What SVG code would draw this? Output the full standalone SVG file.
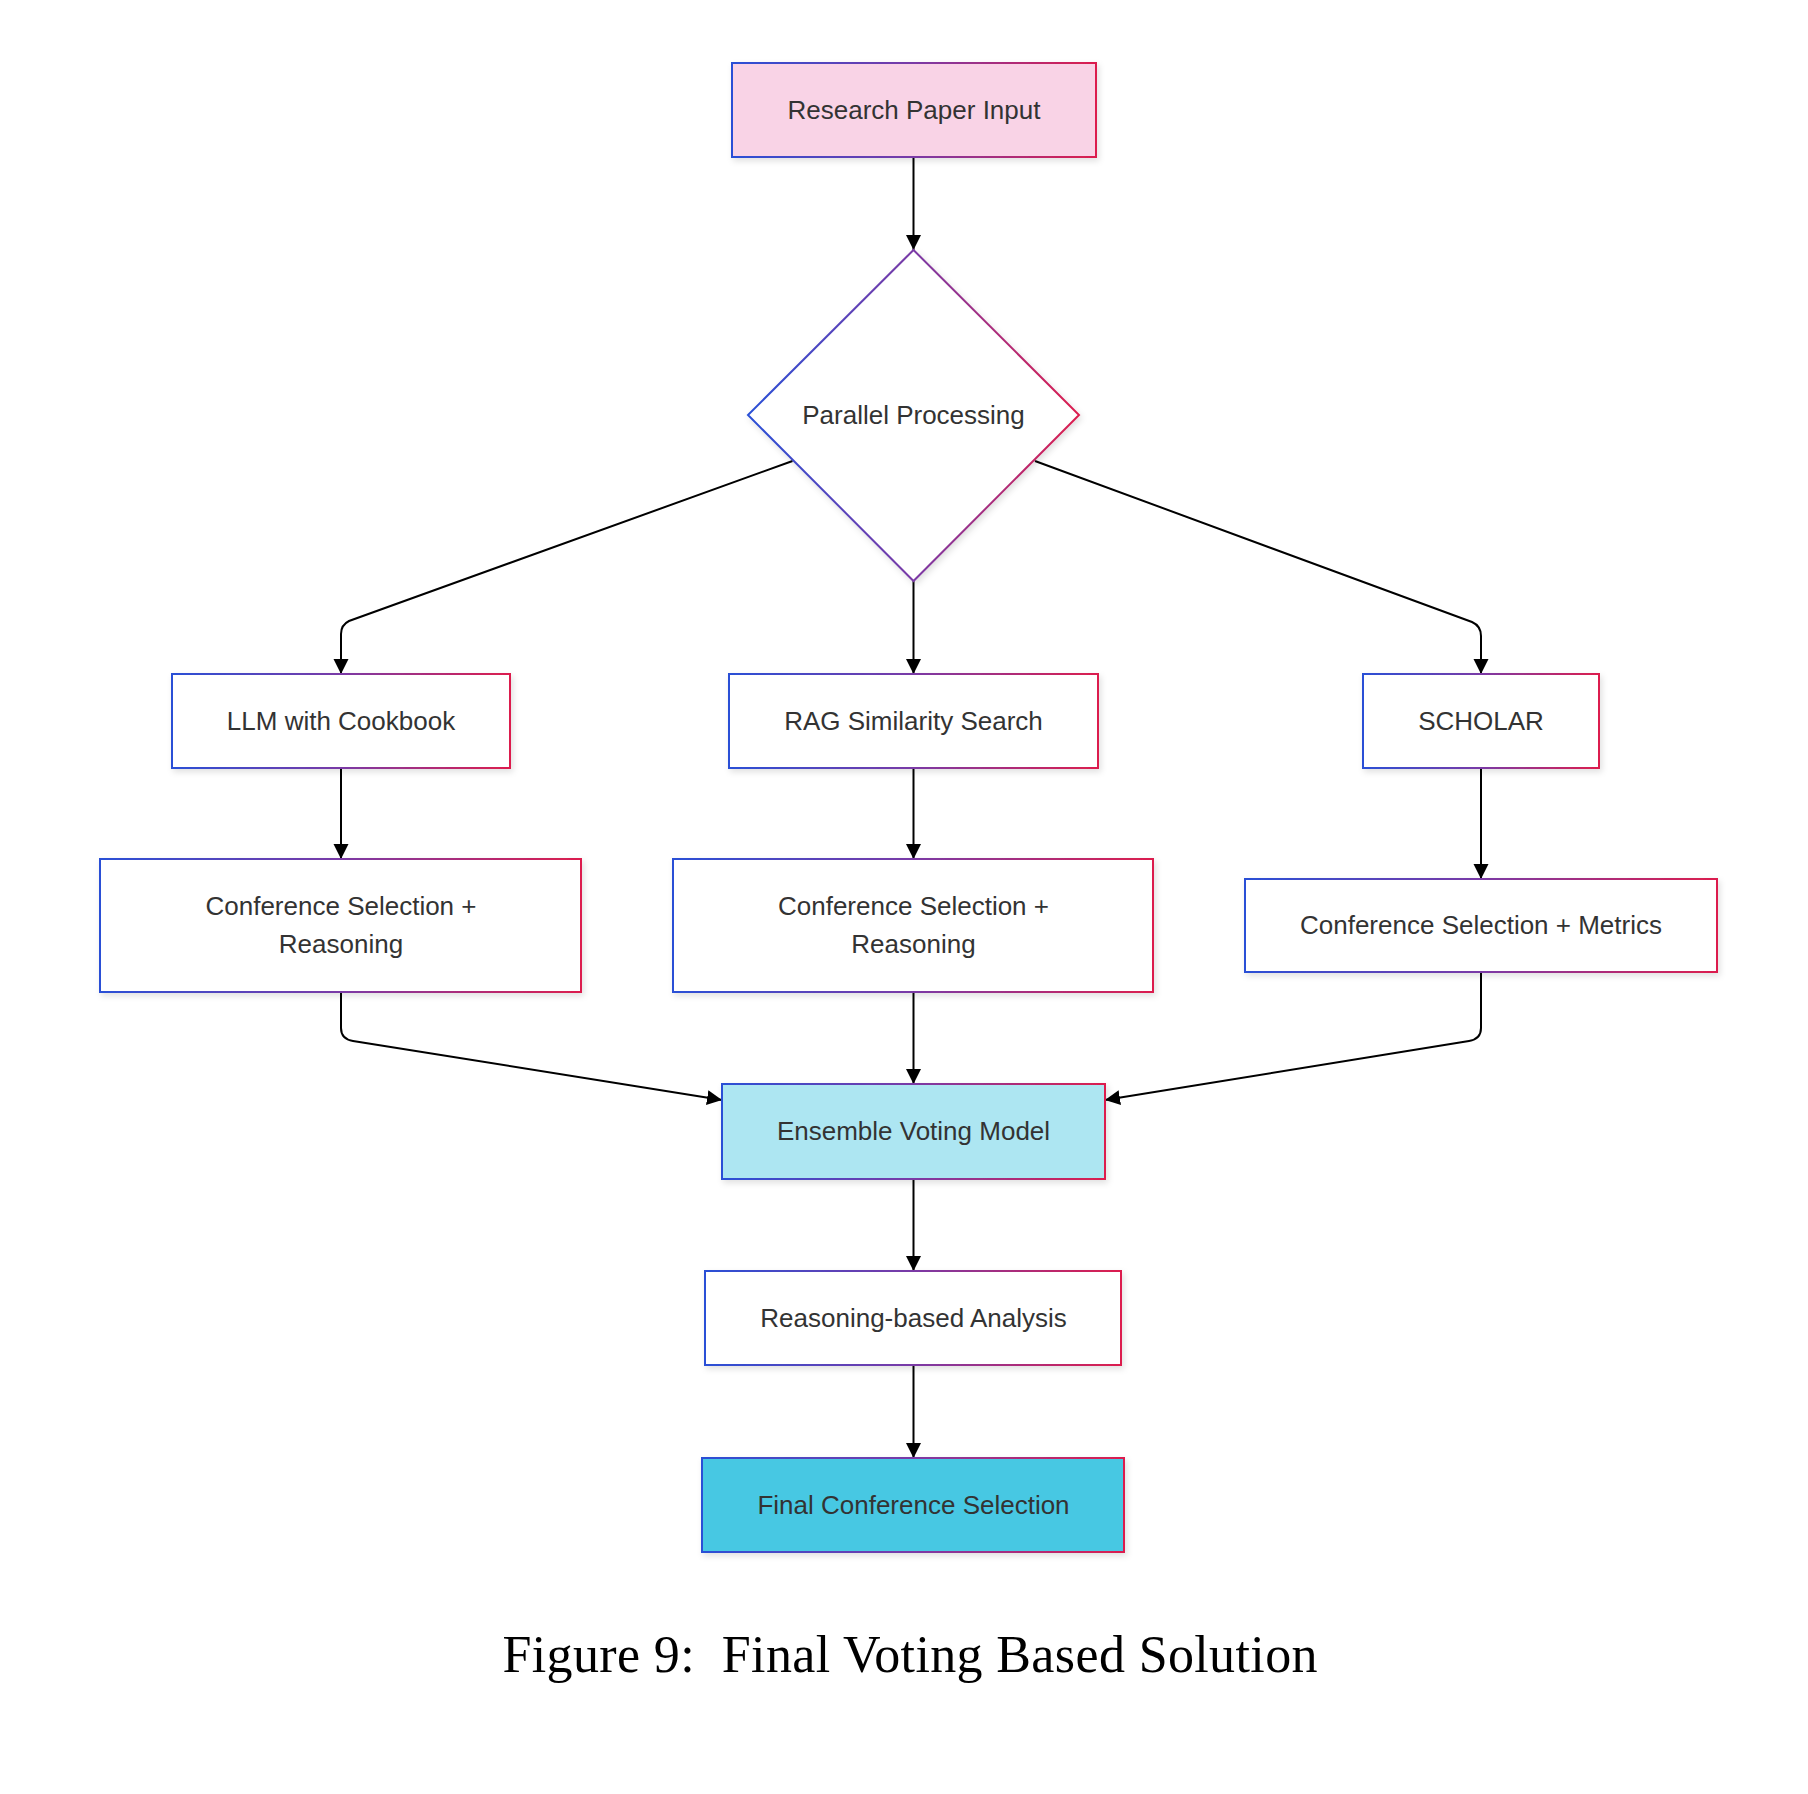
<svg xmlns="http://www.w3.org/2000/svg" width="1808" height="1794" viewBox="0 0 1808 1794">
  <defs>
    <linearGradient id="edge" x1="0" y1="0" x2="1" y2="0">
      <stop offset="0" stop-color="#2a50d6"/>
      <stop offset="0.5" stop-color="#7a3aa6"/>
      <stop offset="1" stop-color="#dc1e4e"/>
    </linearGradient>
    <filter id="shadow" x="-10%" y="-10%" width="120%" height="130%">
      <feDropShadow dx="2" dy="3" stdDeviation="3" flood-color="#000" flood-opacity="0.12"/>
    </filter>
    <marker id="arrow" markerUnits="userSpaceOnUse" markerWidth="18" markerHeight="18" refX="15" refY="7.5" orient="auto">
      <path d="M0,0 L15,7.5 L0,15 z" fill="#000"/>
    </marker>
    <style>
      .node { stroke: url(#edge); stroke-width: 2; fill: #ffffff; filter: url(#shadow); }
      .lbl { font-family: "Liberation Sans", Arial, Helvetica, sans-serif; font-size: 26px; fill: #333333; text-anchor: middle; }
      .edge { fill: none; stroke: #000; stroke-width: 2; marker-end: url(#arrow); }
      .cap { font-family: "Liberation Serif", "DejaVu Serif", serif; font-size: 52px; fill: #000; text-anchor: middle; white-space: pre; }
    </style>
  </defs>
  <rect width="1808" height="1794" fill="#ffffff"/>

  <g id="connectors">
    <path class="edge" d="M913.5,157 L913.5,250"/>
    <path class="edge" d="M792.5,461 L349,621 Q341,625 341,634 L341,674"/>
    <path class="edge" d="M913.5,581 L913.5,674"/>
    <path class="edge" d="M1035,461 L1472,622 Q1481,626 1481,636 L1481,674"/>
    <path class="edge" d="M341,768 L341,859"/>
    <path class="edge" d="M913.5,768 L913.5,859"/>
    <path class="edge" d="M1481,768 L1481,879"/>
    <path class="edge" d="M341,992 L341,1028 Q341,1039 353,1041 L722,1100"/>
    <path class="edge" d="M913.5,992 L913.5,1084"/>
    <path class="edge" d="M1481,972 L1481,1028 Q1481,1039 1469,1041 L1105,1100"/>
    <path class="edge" d="M913.5,1179 L913.5,1271"/>
    <path class="edge" d="M913.5,1365 L913.5,1458"/>
  </g>

  <g id="research-paper-input">
    <rect class="node" x="732" y="63" width="364" height="94" style="fill:#f9d3e6"/>
    <text class="lbl" x="914" y="119">Research Paper Input</text>
  </g>

  <g id="parallel-processing">
    <polygon class="node" points="913.5,250 1079,415 913.5,581 748,415"/>
    <text class="lbl" x="913.5" y="424">Parallel Processing</text>
  </g>

  <g id="llm-cookbook">
    <rect class="node" x="172" y="674" width="338" height="94"/>
    <text class="lbl" x="341" y="730">LLM with Cookbook</text>
  </g>

  <g id="rag-search">
    <rect class="node" x="729" y="674" width="369" height="94"/>
    <text class="lbl" x="913.5" y="730">RAG Similarity Search</text>
  </g>

  <g id="scholar">
    <rect class="node" x="1363" y="674" width="236" height="94"/>
    <text class="lbl" x="1481" y="730">SCHOLAR</text>
  </g>

  <g id="conf-reasoning-left">
    <rect class="node" x="100" y="859" width="481" height="133"/>
    <text class="lbl" x="341" y="915">Conference Selection +</text>
    <text class="lbl" x="341" y="953">Reasoning</text>
  </g>

  <g id="conf-reasoning-mid">
    <rect class="node" x="673" y="859" width="480" height="133"/>
    <text class="lbl" x="913.5" y="915">Conference Selection +</text>
    <text class="lbl" x="913.5" y="953">Reasoning</text>
  </g>

  <g id="conf-metrics">
    <rect class="node" x="1245" y="879" width="472" height="93"/>
    <text class="lbl" x="1481" y="934">Conference Selection + Metrics</text>
  </g>

  <g id="ensemble-voting">
    <rect class="node" x="722" y="1084" width="383" height="95" style="fill:#ade6f2"/>
    <text class="lbl" x="913.5" y="1140">Ensemble Voting Model</text>
  </g>

  <g id="reasoning-analysis">
    <rect class="node" x="705" y="1271" width="416" height="94"/>
    <text class="lbl" x="913.5" y="1327">Reasoning-based Analysis</text>
  </g>

  <g id="final-selection">
    <rect class="node" x="702" y="1458" width="422" height="94" style="fill:#47c8e3"/>
    <text class="lbl" x="913.5" y="1514">Final Conference Selection</text>
  </g>

  <text class="cap" x="910" y="1672" textLength="815" lengthAdjust="spacing">Figure 9:  Final Voting Based Solution</text>
</svg>
